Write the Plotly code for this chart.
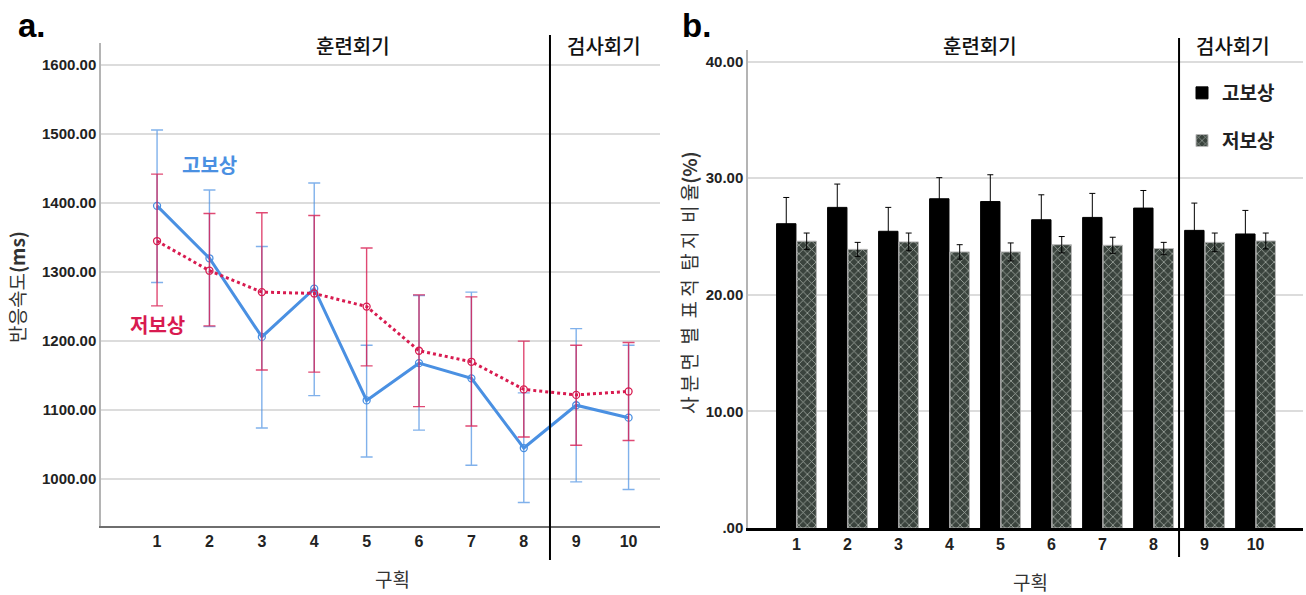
import plotly.graph_objects as go

# ---------------- data ----------------
blocks = [1, 2, 3, 4, 5, 6, 7, 8, 9, 10]
block_labels = [str(b) for b in blocks]
groups = ["고보상", "저보상"]
sections = ["훈련회기", "검사회기"]

# panel a: response time (ms), mean and error-bar ends
rt_high = [1396, 1320, 1206, 1276, 1114, 1168, 1146, 1045, 1107, 1089]
rt_high_top = [1506, 1419, 1337, 1429, 1194, 1266, 1271, 1125, 1218, 1194]
rt_high_bot = [1285, 1221, 1074, 1121, 1032, 1071, 1020, 966, 996, 985]
rt_low = [1345, 1302, 1271, 1269, 1250, 1186, 1170, 1130, 1122, 1127]
rt_low_top = [1442, 1385, 1386, 1382, 1335, 1267, 1264, 1200, 1194, 1198]
rt_low_bot = [1251, 1222, 1158, 1155, 1164, 1105, 1077, 1061, 1049, 1056]

# panel b: target detection ratio per quadrant (%)
det_high = [26.1, 27.5, 25.45, 28.24, 28.0, 26.44, 26.64, 27.44, 25.53, 25.22]
det_high_err = [2.25, 2.0, 2.05, 1.81, 2.3, 2.14, 2.06, 1.51, 2.34, 2.02]
det_low = [24.6, 23.9, 24.54, 23.68, 23.68, 24.3, 24.25, 23.97, 24.5, 24.62]
det_low_err = [0.7, 0.6, 0.76, 0.62, 0.77, 0.7, 0.69, 0.53, 0.8, 0.68]

rt_ticks = [1000, 1100, 1200, 1300, 1400, 1500, 1600]
rt_ticktext = ["1000.00", "1100.00", "1200.00", "1300.00", "1400.00", "1500.00", "1600.00"]
det_ticks = [0, 10, 20, 30, 40]
det_ticktext = [".00", "10.00", "20.00", "30.00", "40.00"]

# ---------------- style ----------------
BLUE = "#4a90e2"
RED = "#d81b50"
KFONT = "Noto Sans CJK KR"
NFONT = "Liberation Sans, Arial, sans-serif"

divider = (blocks[7] + blocks[8]) / 2

fig = go.Figure()

fig.add_trace(go.Scatter(
    x=blocks, y=rt_high, mode="lines+markers", name=groups[0], showlegend=False,
    line=dict(color=BLUE, width=3),
    marker=dict(symbol="circle-open", size=7, color=BLUE, line=dict(width=1.3)),
    error_y=dict(type="data", symmetric=False,
                 array=[t - m for t, m in zip(rt_high_top, rt_high)],
                 arrayminus=[m - b for m, b in zip(rt_high, rt_high_bot)],
                 color="rgba(74,144,226,0.7)", thickness=1.4, width=6),
    xaxis="x", yaxis="y",
))
fig.add_trace(go.Scatter(
    x=blocks, y=rt_low, mode="lines+markers", name=groups[1], showlegend=False,
    line=dict(color=RED, width=3, dash="dot"),
    marker=dict(symbol="circle-open", size=7, color=RED, line=dict(width=1.3)),
    error_y=dict(type="data", symmetric=False,
                 array=[t - m for t, m in zip(rt_low_top, rt_low)],
                 arrayminus=[m - b for m, b in zip(rt_low, rt_low_bot)],
                 color="rgba(216,27,80,0.8)", thickness=1.4, width=6),
    xaxis="x", yaxis="y",
))

fig.add_trace(go.Bar(
    x=blocks, y=det_high, name=groups[0], legendgroup="g1",
    marker=dict(color="black", line=dict(color="black", width=1)),
    error_y=dict(type="data", array=det_high_err, color="black", thickness=1, width=3),
    xaxis="x2", yaxis="y2",
))
fig.add_trace(go.Bar(
    x=blocks, y=det_low, name=groups[1], legendgroup="g2",
    marker=dict(color="#3a433d", line=dict(color="#b8b8b8", width=1),
                pattern=dict(shape="x", fgcolor="#a3aca5", bgcolor="#3a433d",
                             size=6, solidity=0.25, fillmode="replace")),
    error_y=dict(type="data", array=det_low_err, color="black", thickness=1, width=3),
    xaxis="x2", yaxis="y2",
))

grid = "#dcdcdc"
fig.update_layout(
    width=1306, height=595,
    margin=dict(l=0, r=0, t=0, b=0),
    paper_bgcolor="white", plot_bgcolor="white",
    barmode="group", bargap=0.2, bargroupgap=0.05,
    font=dict(family=NFONT, color="#222"),
    xaxis=dict(domain=[101 / 1306, 660 / 1306], range=[-0.07, 10.6],
               tickmode="array", tickvals=blocks, ticktext=block_labels,
               tickfont=dict(family=NFONT, size=16, weight="bold", color="#222"),
               showgrid=False, zeroline=False, showline=True,
               linecolor="#6e6e6e", linewidth=1.5, ticks="", automargin=False),
    yaxis=dict(domain=[1 - 526 / 595, 1 - 43 / 595], range=[932, 1632],
               tickmode="array", tickvals=rt_ticks, ticktext=rt_ticktext,
               tickfont=dict(family=NFONT, size=15, weight="bold", color="#222"),
               showgrid=True, gridcolor=grid, gridwidth=2, zeroline=False,
               showline=True, linecolor="#b4b4b4", linewidth=1.5, ticks="",
               automargin=False),
    xaxis2=dict(domain=[748 / 1306, 1303 / 1306], range=[0.05, 10.93],
                tickmode="array", tickvals=blocks, ticktext=block_labels,
                tickfont=dict(family=NFONT, size=16, weight="bold", color="#222"),
                showgrid=False, zeroline=False, showline=True,
                linecolor="black", linewidth=3, ticks="", anchor="y2",
                automargin=False),
    yaxis2=dict(domain=[1 - 528 / 595, 1 - 50 / 595], range=[0, 41.0],
                tickmode="array", tickvals=det_ticks, ticktext=det_ticktext,
                tickfont=dict(family=NFONT, size=15, weight="bold", color="#222"),
                showgrid=True, gridcolor=grid, gridwidth=2, zeroline=False,
                showline=True, linecolor="#b4b4b4", linewidth=1.5, ticks="",
                anchor="x2", automargin=False),
    legend=dict(x=1182 / 1306, y=1 - 74 / 595, xanchor="left", yanchor="top",
                bgcolor="rgba(0,0,0,0)", tracegroupgap=20,
                font=dict(family=KFONT, size=19, weight="bold", color="#222"),
                itemwidth=30),
)

# divider lines between training and test blocks
fig.add_shape(type="line", xref="x", yref="paper", x0=divider, x1=divider,
              y0=1 - 560 / 595, y1=1 - 35 / 595, line=dict(color="black", width=2))
fig.add_shape(type="line", xref="x2", yref="paper", x0=divider, x1=divider,
              y0=1 - 557 / 595, y1=1 - 38 / 595, line=dict(color="black", width=2))


def txt(xref, yref, x, y, text, size, color="#222", weight=None, angle=0, xanchor="center"):
    f = dict(family=KFONT, size=size, color=color)
    if weight is not None:
        f["weight"] = weight
    return dict(xref=xref, yref=yref, x=x, y=y, text=text, showarrow=False,
                xanchor=xanchor, yanchor="middle", textangle=angle, font=f)


ann = []
# section labels
ann.append(txt("x", "paper", 4.74, 1 - 46 / 595, sections[0], 20, "#111", 500))
ann.append(txt("x", "paper", 9.53, 1 - 46 / 595, sections[1], 20, "#111", 500))
ann.append(txt("x2", "paper", 4.6, 1 - 46 / 595, sections[0], 20, "#111", 500))
ann.append(txt("x2", "paper", 9.55, 1 - 46 / 595, sections[1], 20, "#111", 500))
# series labels in panel a
ann.append(txt("x", "y", 2.0, 1456, groups[0], 20, BLUE, "bold"))
ann.append(txt("x", "y", 1.0, 1224, groups[1], 20, RED, "bold"))
# panel letters
a_letter = txt("paper", "paper", 16 / 1306, 1 - 26 / 595, "<b>a.</b>", 33, "black", xanchor="left")
a_letter["font"]["family"] = NFONT
b_letter = txt("paper", "paper", 680 / 1306, 1 - 26 / 595, "<b>b.</b>", 33, "black", xanchor="left")
b_letter["font"]["family"] = NFONT
ann += [a_letter, b_letter]
# axis titles
ann.append(txt("paper", "paper", 392 / 1306, 1 - 578 / 595, "구획", 19, "#333"))
ann.append(txt("paper", "paper", 1030 / 1306, 1 - 581 / 595, "구획", 19, "#333"))
ann.append(txt("paper", "paper", 16 / 1306, 1 - 287 / 595, "반응속도<b>(ms)</b>", 19, "#333", angle=-90))
ann.append(txt("paper", "paper", 688 / 1306, 1 - 283 / 595,
               "사 분 면  별  표 적  탐 지  비 율<b>(%)</b>", 19, "#333", angle=-90))
fig.update_layout(annotations=ann)

fig.write_html("out.html")
